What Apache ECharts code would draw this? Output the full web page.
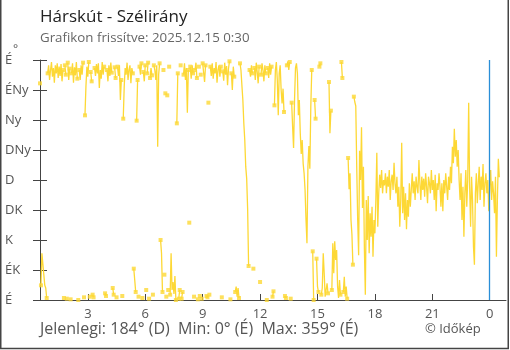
<!DOCTYPE html>
<html><head><meta charset="utf-8">
<script src="https://cdn.jsdelivr.net/npm/echarts@6/dist/echarts.min.js"></script>
<style>html,body{margin:0;padding:0;background:#fff;}#c{width:510px;height:350px;}</style>
</head><body><div id="c"></div>
<script>
const titleText = 'Hárskút - Szélirány';
const subtitleText = 'Grafikon frissítve: 2025.12.15 0:30';
const footerText = 'Jelenlegi: 184° (D)  Min: 0° (É)  Max: 359° (É)';
const creditText = '© Időkép';
const startHour = 0.5;
const hourStep = 0.05;
const nowHour = 24;
const xTickHours = [3, 6, 9, 12, 15, 18, 21, 24];
const yTickLabels = ['É', 'ÉK', 'K', 'DK', 'D', 'DNy', 'Ny', 'ÉNy', 'É'];
const windDir = [
  325, 22, 70, 70, 70, 22, 18, 3, 340, 352, 330, 345, 357, 335, 348, 326, 352, 340, 355, 333,
  350, 336, 354, 328, 345, 3, 352, 338, 2, 356, 330, 347, 1, 340, 355, 326, 349, 337, 357, 332,
  0, 345, 330, 352, 338, 356, 4, 277, 320, 350, 335, 357, 5, 342, 328, 8, 4, 348, 336, 354,
  340, 355, 318, 345, 332, 357, 338, 350, 10, 6, 345, 328, 352, 336, 356, 341, 18, 8, 349, 333,
  4, 350, 336, 352, 300, 330, 6, 272, 320, 348, 338, 356, 330, 345, 352, 325, 348, 340, 47, 30,
  12, 269, 330, 5, 350, 338, 355, 3, 342, 328, 352, 15, 340, 356, 2, 333, 348, 337, 8, 352,
  345, 330, 352, 230, 338, 355, 90, 70, 12, 345, 38, 310, 5, 307, 15, 350, 8, 70, 15, 27,
  9, 36, 0, 265, 340, 2, 15, 352, 2, 12, 338, 355, 330, 348, 281, 345, 116, 350, 332, 352,
  340, 5, 345, 356, 333, 1, 350, 6, 338, 2, 355, 341, 327, 352, 6, 4, 296, 8, 350, 336,
  355, 332, 348, 340, 357, 326, 345, 352, 335, 350, 4, 343, 329, 356, 338, 351, 322, 347, 358, 1,
  340, 315, 350, 335, 12, 20, 5, 18, 3, 355, 345, 322, 300, 265, 240, 200, 182, 136, 51, 345,
  335, 352, 340, 47, 348, 330, 356, 342, 325, 350, 27, 338, 355, 345, 328, 352, 340, 0, 348, 333,
  355, 338, 350, 5, 13, 292, 345, 357, 330, 277, 340, 352, 315, 295, 317, 282, 6, 3, 352, 358,
  345, 357, 2, 296, 260, 228, 300, 348, 355, 340, 277, 300, 250, 219, 240, 205, 190, 165, 120, 85,
  200, 231, 197, 289, 345, 73, 0, 300, 272, 62, 20, 12, 350, 355, 8, 18, 70, 40, 5, 15,
  25, 10, 327, 250, 284, 15, 85, 40, 88, 60, 75, 20, 3, 30, 8, 357, 333, 12, 35, 5,
  20, 2, 213, 166, 190, 120, 98, 53, 305, 297, 291, 200, 120, 67, 224, 180, 259, 138, 200, 77,
  8, 150, 90, 156, 70, 130, 95, 140, 65, 120, 100, 150, 221, 110, 160, 188, 168, 195, 160, 180,
  172, 190, 160, 185, 170, 195, 150, 178, 188, 165, 206, 175, 160, 185, 140, 170, 110, 150, 236, 130,
  170, 120, 160, 106, 150, 125, 175, 140, 165, 190, 160, 178, 150, 185, 170, 160, 210, 175, 150, 185,
  165, 182, 155, 190, 170, 145, 185, 175, 160, 195, 165, 180, 150, 188, 133, 175, 165, 190, 170, 140,
  175, 133, 180, 160, 190, 170, 150, 185, 165, 200, 175, 230, 205, 257, 215, 240, 200, 225, 180, 150,
  190, 120, 170, 95, 160, 195, 140, 180, 296, 170, 110, 185, 150, 80, 53, 160, 190, 145, 175, 200,
  150, 185, 165, 204, 140, 175, 190, 160, 180, 133, 170, 195, 150, 178, 160, 130, 185, 65, 150, 212, 184
];

const lineData = [];
const endPoints = [];
const n = windDir.length;
function tAt(i) { return Math.round((startHour + i * hourStep) * 10000) / 10000; }
function brk(a, b) { return Math.abs(windDir[a] - windDir[b]) > 180; }
for (let i = 0; i < n; i++) {
  const t = tAt(i);
  if (i > 0 && brk(i - 1, i)) lineData.push([t - hourStep / 2, '-']);
  lineData.push([t, windDir[i]]);
  const startSeg = i === 0 || brk(i - 1, i);
  const endSeg = i < n - 1 && brk(i, i + 1);
  if ((startSeg || endSeg) && i < n - 1) endPoints.push([t, windDir[i]]);
}

const FONT = 'Open Sans';
const yellow = '#fdd835';
const chart = echarts.init(document.getElementById('c'), null, { renderer: 'canvas' });
chart.setOption({
  animation: false,
  grid: { left: 40, right: 4, top: 60, bottom: 50 },
  xAxis: {
    type: 'value', min: startHour, max: 24.85,
    axisLine: { show: true, lineStyle: { color: '#444', width: 1 } },
    axisTick: { show: true, inside: true, length: 6, customValues: xTickHours, lineStyle: { color: '#444' } },
    axisLabel: { customValues: xTickHours, formatter: v => String(Math.round(v) % 24), color: '#555', fontSize: 13, fontFamily: FONT, margin: 8 },
    splitLine: { show: false }
  },
  yAxis: [{
    type: 'value', min: 0, max: 360, interval: 45,
    axisLine: { show: true, lineStyle: { color: '#444', width: 1 } },
    axisTick: { show: true, inside: false, length: 7, lineStyle: { color: '#444' } },
    axisLabel: { formatter: (v) => yTickLabels[Math.round(v / 45)], color: '#555', fontSize: 13, fontFamily: FONT, align: 'left', margin: 35 },
    splitLine: { show: false }
  }, {
    type: 'value', min: 0, max: 360, interval: 45, position: 'left',
    axisLine: { show: false },
    axisTick: { show: true, inside: true, length: 7, lineStyle: { color: '#444' } },
    axisLabel: { show: false },
    splitLine: { show: false }
  }],
  series: [{
    type: 'line', data: lineData, yAxisIndex: 0, showSymbol: false, connectNulls: false,
    lineStyle: { color: yellow, width: 1.3 }, itemStyle: { color: yellow },
    markLine: {
      silent: true, symbol: 'none', label: { show: false },
      lineStyle: { color: '#2a8fd8', width: 1.3, type: 'solid' },
      data: [{ xAxis: nowHour }]
    },
    z: 2
  }, {
    type: 'scatter', data: endPoints, yAxisIndex: 0, symbol: 'rect', symbolSize: 4,
    itemStyle: { color: yellow }, z: 3
  }],
  graphic: [
    { type: 'rect', shape: { x: 0.75, y: -3, width: 507.5, height: 351.5 }, style: { fill: 'none', stroke: '#444', lineWidth: 1.5 }, silent: true },
    { type: 'text', left: 40, top: 9, style: { text: titleText, fill: '#222', font: '17px "Open Sans"' } },
    { type: 'text', left: 40, top: 32, style: { text: subtitleText, fill: '#666', font: '13.3px "Open Sans"' } },
    { type: 'text', left: 13, top: 44, style: { text: '°', fill: '#555', font: '12px "Open Sans"' } },
    { type: 'text', left: 40, top: 321, style: { text: footerText, fill: '#555', font: '16px "Open Sans"' } },
    { type: 'text', left: 425, top: 323, style: { text: creditText, fill: '#555', font: '13px "Open Sans"' } }
  ]
});
</script>
</body></html>
